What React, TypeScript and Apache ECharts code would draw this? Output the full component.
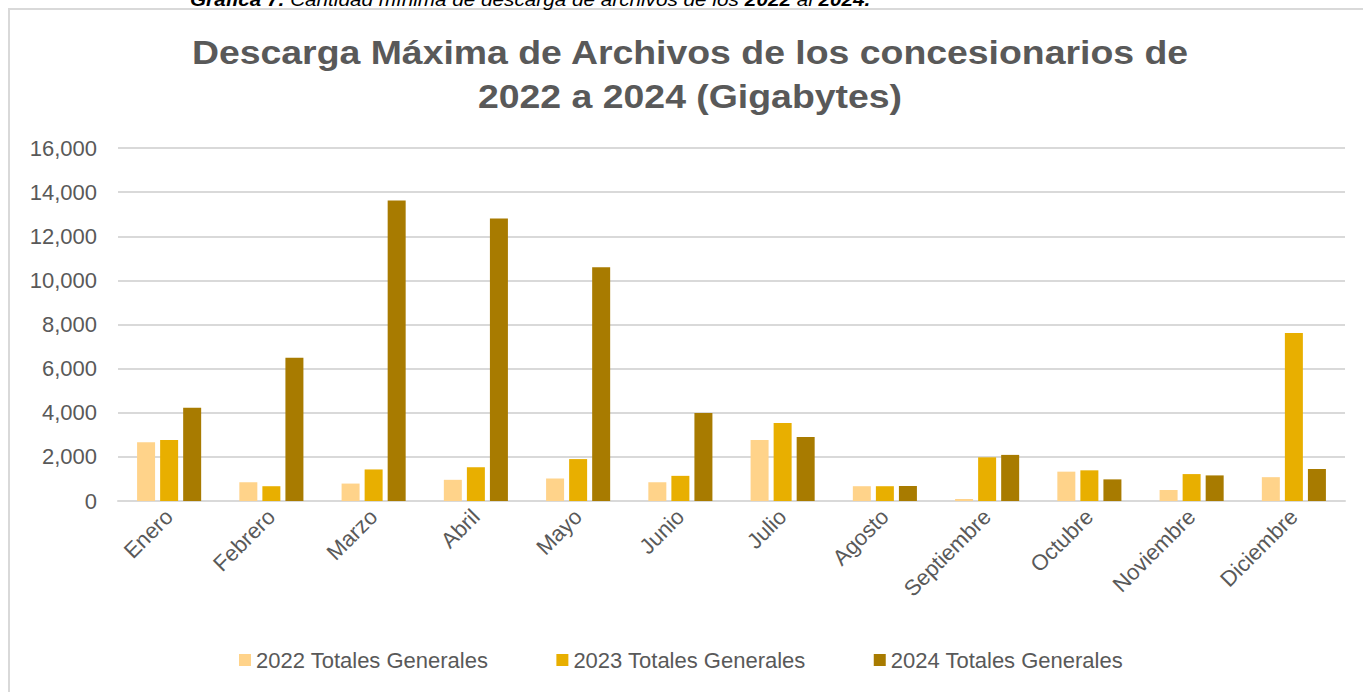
import React, { useEffect, useRef } from "react";
import * as echarts from "echarts";

const months = ["Enero", "Febrero", "Marzo", "Abril", "Mayo", "Junio", "Julio", "Agosto", "Septiembre", "Octubre", "Noviembre", "Diciembre"];
const seriesNames = ["2022 Totales Generales", "2023 Totales Generales", "2024 Totales Generales"];
const values2022 = [2660, 850, 790, 960, 1020, 850, 2760, 670, 90, 1330, 500, 1080];
const values2023 = [2760, 670, 1430, 1530, 1900, 1140, 3540, 670, 1980, 1390, 1220, 7610];
const values2024 = [4230, 6490, 13620, 12800, 10590, 3990, 2900, 680, 2090, 980, 1160, 1450];
const colors = ["#FFD38A", "#E8AF00", "#A87B00"];
const titleText = "Descarga Máxima de Archivos de los concesionarios de\n2022 a 2024 (Gigabytes)";
const captionText = "{b|Gráfica 7.} Cantidad mínima de descarga de archivos de los {b|2022} al {b|2024.}";

const FONT = "'Liberation Sans', Arial, sans-serif";

export default function App() {
  const ref = useRef<HTMLDivElement>(null);
  useEffect(() => {
    if (!ref.current) return;
    const chart = echarts.init(ref.current, null, { renderer: "svg" });
    const data = [values2022, values2023, values2024];
    chart.setOption({
      animation: false,
      backgroundColor: "#ffffff",
      textStyle: { fontFamily: FONT },
      graphic: [
        {
          type: "rect",
          shape: { x: 9, y: 9, width: 1400, height: 720 },
          style: { fill: "none", stroke: "#d9d9d9", lineWidth: 2 },
          silent: true,
        },
        {
          type: "text",
          x: 690,
          y: 31,
          scaleX: 1.1,
          style: {
            text: titleText,
            fontFamily: FONT,
            fontSize: 34,
            fontWeight: "bold",
            fill: "#595959",
            lineHeight: 44,
            align: "center",
            verticalAlign: "top",
          },
          silent: true,
        },
        {
          type: "text",
          x: 190,
          y: 9,
          scaleX: 1.09,
          style: {
            text: captionText,
            fontFamily: FONT,
            fontSize: 19,
            fontStyle: "italic",
            fill: "#000000",
            verticalAlign: "bottom",
            rich: {
              b: { fontFamily: FONT, fontSize: 19, fontStyle: "italic", fontWeight: "bold", fill: "#000000" },
            },
          },
          silent: true,
        },
      ],
      legend: {
        data: seriesNames,
        left: 234,
        top: 644,
        itemWidth: 12,
        itemHeight: 12,
        itemGap: 68,
        icon: "rect",
        textStyle: { fontFamily: FONT, fontSize: 22, color: "#595959" },
      },
      grid: { left: 118, right: 18, top: 148, bottom: 191, containLabel: false },
      xAxis: {
        type: "category",
        data: months,
        axisLine: { lineStyle: { color: "#d9d9d9", width: 2 } },
        axisTick: { show: false },
        axisLabel: { rotate: 45, fontFamily: FONT, fontSize: 22, color: "#595959", margin: 12, interval: 0 },
      },
      yAxis: {
        type: "value",
        min: 0,
        max: 16000,
        interval: 2000,
        axisLine: { show: false },
        axisTick: { show: false },
        splitLine: { lineStyle: { color: "#d9d9d9", width: 2 } },
        axisLabel: {
          fontFamily: FONT,
          fontSize: 22,
          color: "#595959",
          margin: 21,
          formatter: (v: number) => v.toLocaleString("en-US"),
        },
      },
      series: seriesNames.map((name, i) => ({
        name,
        type: "bar",
        data: data[i],
        barWidth: 18,
        barGap: "28%",
        itemStyle: { color: colors[i] },
      })),
    });
    return () => chart.dispose();
  }, []);
  return <div ref={ref} style={{ position: "fixed", left: 0, top: 0, width: 1363, height: 692 }} />;
}
